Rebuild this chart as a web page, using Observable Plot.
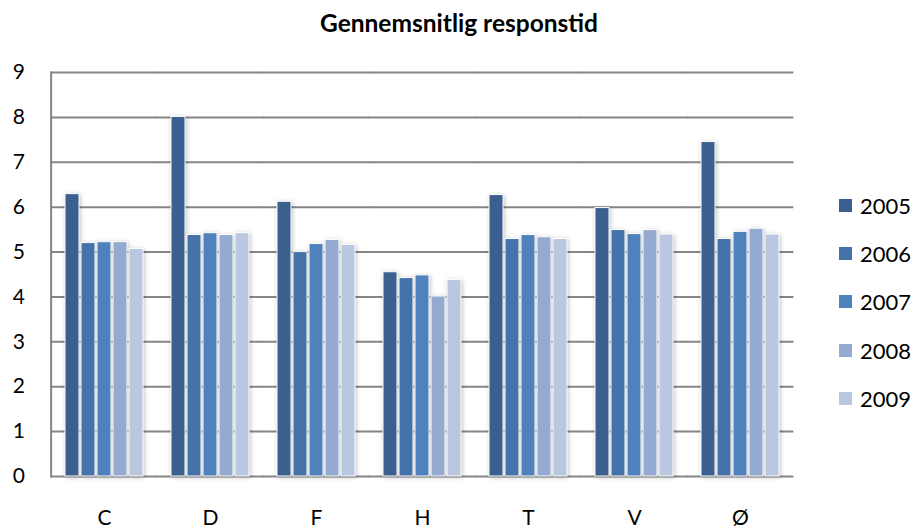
<!DOCTYPE html>
<html>
<head>
<meta charset="utf-8">
<script src="https://cdn.jsdelivr.net/npm/d3@7"></script>
<script src="https://cdn.jsdelivr.net/npm/@observablehq/plot@0.6"></script>
<style>
  html, body { margin: 0; padding: 0; background: #fff; }
  #wrap { position: relative; width: 915px; height: 529px; font-family: Lato, "Open Sans", sans-serif; }
  #title { position: absolute; left: 0; width: 918px; top: 8px; text-align: center; font-weight: bold; font-size: 24.5px; color: #000; }
  #legend { position: absolute; left: 839px; top: 181px; }
  .item { display: flex; align-items: center; height: 48.3px; font-size: 22px; color: #000; }
  .sw { width: 13px; height: 13px; margin-right: 8px; }
  #chart { position: absolute; left: 0; top: 0; }
  #chart g[aria-label="bar"] { filter: drop-shadow(1px 1px 2px rgba(0,0,0,0.25)); }
</style>
</head>
<body>
<div id="wrap">
  <div id="chart"></div>
  <div id="title">Gennemsnitlig responstid</div>
  <div id="legend"></div>
</div>
<script>
const categories = ["C", "D", "F", "H", "T", "V", "Ø"];
const years = ["2005", "2006", "2007", "2008", "2009"];
const v2005 = [6.29, 8.01, 6.12, 4.55, 6.27, 5.98, 7.45];
const v2006 = [5.20, 5.38, 5.00, 4.42, 5.29, 5.49, 5.29];
const v2007 = [5.22, 5.42, 5.18, 4.48, 5.38, 5.40, 5.45];
const v2008 = [5.22, 5.38, 5.27, 4.01, 5.33, 5.49, 5.52];
const v2009 = [5.07, 5.42, 5.16, 4.38, 5.29, 5.39, 5.39];
const yTicks = [0, 1, 2, 3, 4, 5, 6, 7, 8, 9];
const colors = ["#3b5f8e", "#4572a8", "#4f81bd", "#95aad0", "#b9c7e1"];

const series = [v2005, v2006, v2007, v2008, v2009];
const data = [];
categories.forEach((c, i) => years.forEach((y, j) => data.push({cat: c, year: y, value: series[j][i]})));

const gap = -13.4; // half of the gap between facets, extends rules into the gaps

const chart = Plot.plot({
  width: 915,
  height: 529,
  marginLeft: 48,
  marginRight: 119,
  marginTop: 72,
  marginBottom: 53,
  style: {fontFamily: "Lato, 'Open Sans', sans-serif", fontSize: "21px", color: "#000", background: "transparent"},
  facet: {data, x: "cat"},
  fx: {domain: categories, paddingInner: 0.25, paddingOuter: 0.125, label: null, tickSize: 0, tickPadding: 34, axis: "bottom"},
  x: {domain: years, axis: null, paddingInner: 0.15, paddingOuter: 0},
  y: {domain: [0, 9], ticks: yTicks, tickSize: 0, tickPadding: 39.5, label: null},
  color: {domain: years, range: colors},
  marks: [
    Plot.ruleY(yTicks, {stroke: "#868686", strokeWidth: 2, insetLeft: gap, insetRight: gap}),
    Plot.frame({anchor: "left", facetAnchor: "left", insetLeft: gap, stroke: "#868686", strokeWidth: 2}),
    Plot.barY(data, {x: "year", y: "value", fill: "year", stroke: "#fff", strokeWidth: 1})
  ]
});
document.getElementById("chart").appendChild(chart);

const legend = document.getElementById("legend");
years.forEach((y, i) => {
  const d = document.createElement("div");
  d.className = "item";
  d.innerHTML = `<span class="sw" style="background:${colors[i]}"></span><span>${y}</span>`;
  legend.appendChild(d);
});
</script>
</body>
</html>
